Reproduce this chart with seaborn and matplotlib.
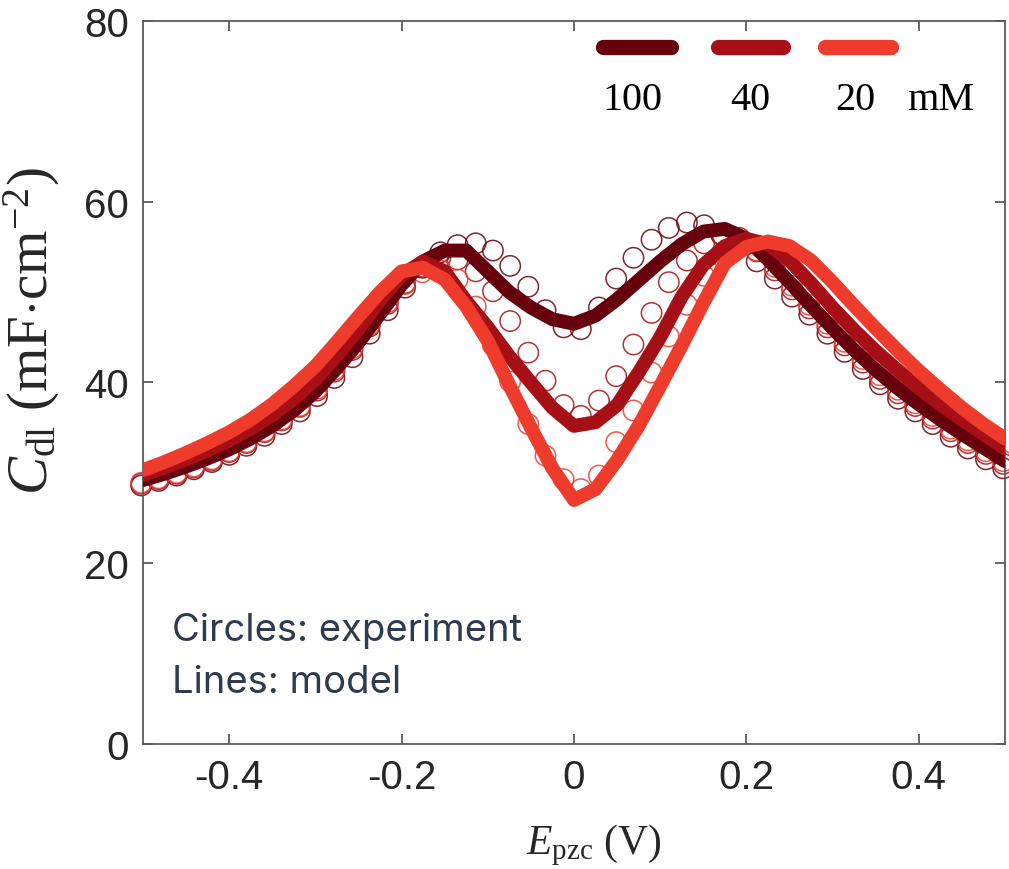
import numpy as np
import pandas as pd
import matplotlib
matplotlib.use("Agg")
import matplotlib.pyplot as plt
import seaborn as sns

# ---- model curves (lines) ----
E_model = [-0.5, -0.475, -0.45, -0.425, -0.4, -0.375, -0.35, -0.325, -0.3, -0.275,
           -0.25, -0.225, -0.2, -0.175, -0.15, -0.125, -0.1, -0.075, -0.05, -0.025,
           0.0, 0.025, 0.05, 0.075, 0.1, 0.125, 0.15, 0.175, 0.2, 0.225,
           0.25, 0.275, 0.3, 0.325, 0.35, 0.375, 0.4, 0.425, 0.45, 0.475, 0.5]

model_100 = [29.2, 29.9, 30.7, 31.6, 32.6, 33.8, 35.2, 36.9, 39.0, 41.6,
             44.4, 47.6, 50.8, 53.4, 54.6, 54.6, 52.3, 50.0, 48.3, 47.0,
             46.5, 47.4, 49.2, 51.3, 53.4, 55.3, 56.7, 57.0, 55.9, 53.6,
             51.1, 48.5, 46.0, 43.6, 41.4, 39.4, 37.6, 35.9, 34.3, 32.8, 31.3]

model_40 = [29.8, 30.6, 31.5, 32.5, 33.6, 34.9, 36.4, 38.2, 40.3, 43.0,
            45.9, 49.1, 51.9, 53.4, 52.3, 49.0, 46.1, 42.9, 40.0, 37.2,
            35.2, 35.6, 37.5, 41.1, 45.0, 49.5, 53.0, 55.1, 55.9, 55.3,
            53.5, 51.0, 48.3, 45.8, 43.5, 41.4, 39.4, 37.6, 35.9, 34.3, 32.7]

model_20 = [30.3, 31.2, 32.2, 33.3, 34.5, 35.9, 37.6, 39.6, 41.8, 44.5,
            47.3, 50.0, 52.3, 52.7, 51.4, 48.4, 44.6, 39.7, 35.0, 30.5,
            27.0, 28.2, 31.4, 35.2, 39.6, 44.1, 48.8, 53.2, 55.0, 55.6,
            55.1, 53.5, 51.1, 48.5, 46.0, 43.6, 41.3, 39.2, 37.2, 35.4, 33.8]

# ---- measured capacitance (circles) ----
E_exp = [-0.502, -0.482, -0.461, -0.441, -0.420, -0.400, -0.380, -0.359, -0.339, -0.318,
         -0.298, -0.278, -0.257, -0.237, -0.216, -0.196, -0.176, -0.155, -0.135, -0.114,
         -0.094, -0.074, -0.053, -0.033, -0.012, 0.008, 0.029, 0.049, 0.069, 0.090,
         0.110, 0.131, 0.151, 0.171, 0.192, 0.212, 0.233, 0.253, 0.273, 0.294,
         0.314, 0.335, 0.355, 0.376, 0.396, 0.416, 0.437, 0.457, 0.478, 0.498]

exp_100 = [28.6, 29.1, 29.7, 30.4, 31.2, 32.0, 33.0, 34.1, 35.4, 36.8,
           38.5, 40.5, 42.8, 45.4, 48.0, 50.5, 52.7, 54.4, 55.2, 55.4,
           54.6, 52.9, 50.6, 48.0, 46.1, 45.9, 48.3, 51.5, 53.8, 55.8,
           57.1, 57.7, 57.4, 56.4, 55.0, 53.4, 51.5, 49.5, 47.5, 45.4,
           43.4, 41.5, 39.8, 38.2, 36.8, 35.4, 34.0, 32.7, 31.5, 30.5]

exp_40 = [28.8, 29.3, 29.9, 30.6, 31.4, 32.3, 33.3, 34.5, 35.8, 37.3,
          39.1, 41.2, 43.6, 46.2, 48.7, 51.0, 52.8, 53.8, 53.6, 52.3,
          50.1, 46.8, 43.3, 40.2, 37.5, 36.3, 38.0, 40.7, 44.2, 47.7,
          51.1, 53.5, 55.4, 56.3, 56.0, 54.5, 52.4, 50.3, 48.2, 46.1,
          44.1, 42.2, 40.4, 38.8, 37.4, 36.0, 34.6, 33.3, 32.1, 31.0]

exp_20 = [28.9, 29.4, 30.0, 30.7, 31.5, 32.4, 33.4, 34.6, 35.9, 37.4,
          39.3, 41.4, 43.8, 46.4, 48.9, 50.9, 52.2, 52.4, 51.4, 48.4,
          44.1, 40.1, 35.4, 31.9, 29.3, 28.2, 29.7, 33.4, 36.9, 41.1,
          45.1, 48.6, 51.8, 54.0, 55.0, 54.6, 52.8, 50.7, 48.6, 46.5,
          44.5, 42.6, 40.8, 39.2, 37.7, 36.3, 34.9, 33.6, 32.4, 31.3]

concentrations = ["100", "40", "20"]
colors = ["#67000d", "#a50f15", "#ef3b2c"]

x_ticks = [-0.4, -0.2, 0.0, 0.2, 0.4]
x_ticklabels = ["-0.4", "-0.2", "0", "0.2", "0.4"]
y_ticks = [0, 20, 40, 60, 80]

model_df = pd.concat([
    pd.DataFrame({"E": E_model, "C": vals, "conc": c})
    for c, vals in zip(concentrations, [model_100, model_40, model_20])
], ignore_index=True)
exp_df = pd.concat([
    pd.DataFrame({"E": E_exp, "C": vals, "conc": c})
    for c, vals in zip(concentrations, [exp_100, exp_40, exp_20])
], ignore_index=True)
palette = dict(zip(concentrations, colors))

sns.set_style("ticks")
plt.rcParams["axes.unicode_minus"] = False
plt.rcParams["mathtext.fontset"] = "custom"
plt.rcParams["mathtext.rm"] = "Liberation Serif"
plt.rcParams["mathtext.it"] = "Liberation Serif:italic"

fig = plt.figure(figsize=(10.09, 8.70), dpi=100)
ax = fig.add_axes([0.1417, 0.1437, 0.8543, 0.831])

# open circles for the measurements
sns.scatterplot(data=exp_df, x="E", y="C", hue="conc", hue_order=concentrations,
                palette=palette, s=215, marker="o", linewidth=1.1, legend=False,
                ax=ax, zorder=2)
pts = ax.collections[-1]
pts.set_edgecolors(pts.get_facecolors())
pts.set_facecolors("none")
pts.set_alpha(0.85)
pts.set_clip_on(False)

# thick model lines on top
sns.lineplot(data=model_df, x="E", y="C", hue="conc", hue_order=concentrations,
             palette=palette, linewidth=10, legend=False, ax=ax, zorder=3,
             estimator=None, sort=False)
for ln in ax.lines:
    ln.set_solid_joinstyle("round")

ax.set_xlim(-0.5, 0.5)
ax.set_ylim(0, 80)
ax.set_xticks(x_ticks)
ax.set_xticklabels(x_ticklabels)
ax.set_yticks(y_ticks)

for sp in ax.spines.values():
    sp.set_color("#5c5c5c")
    sp.set_linewidth(1.3)
    sp.set_visible(True)
ax.tick_params(direction="in", length=7, width=1.3, color="#5c5c5c",
               top=True, right=True, labelsize=29, labelcolor="#262626", pad=10)
for lab in ax.get_xticklabels() + ax.get_yticklabels():
    lab.set_family("Liberation Sans")

ax.set_xlabel(r"$E_{\rm pzc}$ (V)", fontsize=30, family="Liberation Serif")
ax.set_ylabel(r"$C_{\rm dl}$ (mF$\cdot$cm$^{-2}$)", fontsize=41,
              family="Liberation Serif")
ax.xaxis.set_label_coords(0.523, -0.108)
ax.yaxis.set_label_coords(-0.094, 0.572)

# concentration key along the top
key_x = [(0.534, 0.612), (0.667, 0.742), (0.791, 0.868)]
for (x0, x1), col in zip(key_x, colors):
    ax.plot([x0, x1], [0.964, 0.964], transform=ax.transAxes, color=col,
            linewidth=11, solid_capstyle="round", clip_on=False, zorder=5)
for xt, txt in zip([0.568, 0.704, 0.826, 0.925], concentrations + ["mM"]):
    ax.text(xt, 0.892, txt, transform=ax.transAxes, ha="center", va="center",
            fontsize=29, family="Liberation Serif", color="black")

ax.text(0.034, 0.158, "Circles: experiment", transform=ax.transAxes,
        ha="left", va="center", fontsize=27.5, family="Inter", color="#2e3a4e")
ax.text(0.034, 0.086, "Lines: model", transform=ax.transAxes,
        ha="left", va="center", fontsize=27.5, family="Inter", color="#2e3a4e")

fig.savefig("out.png", dpi=100)
